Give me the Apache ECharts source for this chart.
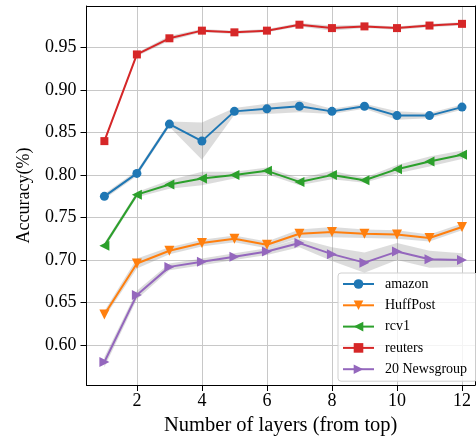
<!DOCTYPE html>
<html>
<head>
<meta charset="utf-8">
<script src="https://cdn.jsdelivr.net/npm/echarts@6/dist/echarts.min.js"></script>
<style>html,body{margin:0;padding:0;background:#fff}#c{width:476px;height:441px}</style>
</head>
<body>
<div id="c"></div>
<script>
const layers = [1,2,3,4,5,6,7,8,9,10,11,12];
const xTicks = [2,4,6,8,10,12];
const yTicks = [0.60,0.65,0.70,0.75,0.80,0.85,0.90,0.95];

const amazon   = [0.775,0.802,0.860,0.840,0.875,0.878,0.881,0.875,0.881,0.870,0.870,0.880];
const huffpost = [0.636,0.696,0.711,0.720,0.725,0.718,0.731,0.733,0.731,0.730,0.726,0.739];
const rcv1     = [0.717,0.777,0.789,0.796,0.800,0.805,0.792,0.800,0.794,0.807,0.816,0.824];
const reuters  = [0.840,0.942,0.961,0.970,0.968,0.970,0.977,0.973,0.975,0.973,0.976,0.978];
const news20   = [0.580,0.659,0.692,0.698,0.704,0.710,0.720,0.707,0.697,0.710,0.701,0.700];

const amazonStd   = [0.003,0.003,0.003,0.022,0.004,0.006,0.007,0.003,0.003,0.005,0.003,0.003];
const huffpostStd = [0.004,0.006,0.004,0.004,0.004,0.004,0.005,0.006,0.005,0.005,0.004,0.004];
const rcv1Std     = [0.003,0.003,0.005,0.008,0.004,0.004,0.004,0.005,0.003,0.005,0.006,0.005];
const reutersStd  = [0.002,0.002,0.003,0.002,0.002,0.002,0.002,0.003,0.002,0.002,0.002,0.002];
const news20Std   = [0.006,0.005,0.004,0.004,0.004,0.004,0.005,0.008,0.012,0.010,0.010,0.008];

const names = ['amazon','HuffPost','rcv1','reuters','20 Newsgroup'];
const colors = ['#1f77b4','#ff7f0e','#2ca02c','#d62728','#9467bd'];
const values = [amazon,huffpost,rcv1,reuters,news20];
const stds = [amazonStd,huffpostStd,rcv1Std,reutersStd,news20Std];
const symbols = ['circle','path://M0,0 L10,0 L5,10 Z','path://M10,0 L10,10 L0,5 Z','rect','path://M0,0 L0,10 L10,5 Z'];
const symbolSizes = [9,10,10,8,10];

const FONT = '"Liberation Serif","DejaVu Serif",serif';

function bandSeries(vals, sd) {
  const data = layers.map((x,i)=>[x, vals[i]-sd[i], vals[i]+sd[i]]);
  return {
    type: 'custom', z: 1, silent: true,
    data: data,
    encode: {x: 0, y: [1,2]},
    renderItem: function(params, api) {
      if (params.dataIndex !== 0) return null;
      const pts = [];
      for (let i = 0; i < data.length; i++) pts.push(api.coord([data[i][0], data[i][1]]));
      for (let i = data.length-1; i >= 0; i--) pts.push(api.coord([data[i][0], data[i][2]]));
      return {type:'polygon', shape:{points:pts}, style:{fill:'rgba(128,128,128,0.28)', stroke:'none'}};
    }
  };
}

const series = [];
for (let k = 0; k < names.length; k++) series.push(bandSeries(values[k], stds[k]));
for (let k = 0; k < names.length; k++) {
  series.push({
    name: names[k], type: 'line', z: 3,
    data: layers.map((x,i)=>[x, values[k][i]]),
    symbol: symbols[k], symbolSize: symbolSizes[k],
    lineStyle: {color: colors[k], width: 2},
    itemStyle: {color: colors[k], borderWidth: 0},
    emphasis: {disabled: true}
  });
}

const chart = echarts.init(document.getElementById('c'), null, {renderer:'canvas'});
chart.setOption({
  animation: false,
  backgroundColor: '#fff',
  textStyle: {fontFamily: FONT},
  grid: {left: 86.5, right: 1, top: 6, bottom: 53},
  legend: {
    orient: 'vertical', left: 338, top: 273,
    data: names,
    itemWidth: 31, itemHeight: 12, itemGap: 7.3,
    padding: [4,10,5,4],
    backgroundColor: 'rgba(255,255,255,0.8)',
    borderColor: '#d0d0d0', borderWidth: 1, borderRadius: 3,
    textStyle: {fontFamily: FONT, fontSize: 14, color: '#000', padding: [0,0,0,6]}
  },
  xAxis: [{
    type: 'value', min: 0.45, max: 12.4,
    name: 'Number of layers (from top)', nameLocation: 'middle', nameGap: 30,
    nameTextStyle: {fontFamily: FONT, fontSize: 20.5, color: '#000'},
    axisLine: {show: true, onZero: false, lineStyle: {color: '#000', width: 1}},
    axisTick: {show: true, length: 6, customValues: xTicks, lineStyle: {color: '#000'}},
    axisLabel: {customValues: xTicks, fontFamily: FONT, fontSize: 18, color: '#000', margin: 7},
    splitLine: {show: true, lineStyle: {color: '#c8c8c8', width: 1}}
  },{
    type: 'value', position: 'top', min: 0.45, max: 12.4,
    axisLine: {show: true, onZero: false, lineStyle: {color: '#000', width: 1}},
    axisTick: {show: false}, axisLabel: {show: false}, splitLine: {show: false}
  }],
  yAxis: [{
    type: 'value', min: 0.553, max: 0.999,
    name: 'Accuracy(%)', nameLocation: 'middle', nameGap: 53,
    nameTextStyle: {fontFamily: FONT, fontSize: 18, color: '#000'},
    axisLine: {show: true, onZero: false, lineStyle: {color: '#000', width: 1}},
    axisTick: {show: true, length: 6, customValues: yTicks, lineStyle: {color: '#000'}},
    axisLabel: {customValues: yTicks, fontFamily: FONT, fontSize: 18, color: '#000', margin: 10,
      formatter: v => v.toFixed(2)},
    splitLine: {show: true, lineStyle: {color: '#c8c8c8', width: 1}}
  },{
    type: 'value', position: 'right', min: 0.553, max: 0.999,
    axisLine: {show: true, onZero: false, lineStyle: {color: '#000', width: 1}},
    axisTick: {show: false}, axisLabel: {show: false}, splitLine: {show: false}
  }],
  series: series
});
</script>
</body>
</html>
